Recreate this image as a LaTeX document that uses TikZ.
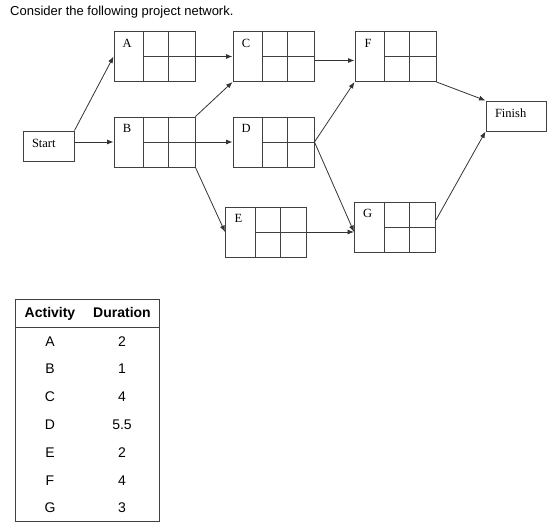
\documentclass[tikz,border=0pt]{standalone}
\usepackage{fontspec}
\setmainfont{Liberation Serif}
\newfontfamily\arialfont{Liberation Sans}
\usetikzlibrary{arrows.meta}

\begin{document}
\begin{tikzpicture}[x=1pt,y=-1pt,
    actbox/.style={draw=black!75,line width=0.95pt,minimum width=81pt,minimum height=50pt,inner sep=0pt},
    endbox/.style={draw=black!75,line width=0.95pt,minimum height=30pt,inner xsep=9pt,inner ysep=0pt,
      align=left,text depth=6pt,font=\fontsize{12.5}{14}\selectfont},
    lbl/.style={inner sep=0pt,font=\fontsize{12.5}{14}\selectfont},
    link/.style={draw=black!80,line width=0.8pt,-{Latex[length=6.5pt,width=5pt]}},
    cell/.style={inner sep=0pt,text height=10pt,text depth=3pt,font=\arialfont\fontsize{14}{16}\selectfont}]
    \useasboundingbox (0,0) rectangle (558,530);
    % Title
    \node[anchor=west,inner sep=0pt,font=\arialfont\fontsize{13}{15}\selectfont] (title) at (10,12)
        {Consider the following project network.};
    % Start and Finish
    \node[endbox,text width=33pt] (Start) at (48.5,146) {Start};
    \node[endbox,text width=42pt] (Finish) at (516,116) {Finish};
    % Activity boxes
    \foreach \n/\cx/\cy in {A/154.5/56.5,B/154.5/142,C/273.5/56.5,D/273.5/142,E/266/232,F/395.5/56.5,G/395/227} {
        \node[actbox] (\n) at (\cx,\cy) {};
        \draw[black!75,line width=0.95pt] ([xshift=30pt]\n.north west) -- ([xshift=30pt]\n.south west)
            ([xshift=55pt]\n.north west) -- ([xshift=55pt]\n.south west)
            ([xshift=30pt]\n.west) -- (\n.east);
        \node[lbl] (lbl\n) at ([xshift=13.5pt,yshift=-12pt]\n.north west) {\n};
    }
    % Precedence arrows
    \draw[link] (Start.north east) -- (A.west);
    \draw[link] (Start.east |- B.west) -- (B.west);
    \draw[link] (A.east) -- (C.west);
    \draw[link] (B.north east) -- (C.south west);
    \draw[link] (B.east) -- (D.west);
    \draw[link] (B.south east) -- (E.west);
    \draw[link] ([yshift=-4pt]C.east) -- ([yshift=-4pt]F.west);
    \draw[link] (D.east) -- (F.south west);
    \draw[link] (D.east) -- (E.east -| G.west);
    \draw[link] (E.east) -- (E.east -| G.west);
    \draw[link] (F.south east) -- (Finish.north west);
    \draw[link] ([yshift=7pt]G.east) -- (Finish.south west);
    % Durations table
    \draw[black!75,line width=1pt] (15,299) rectangle (159,521);
    \draw[black!75,line width=1pt] (15,327) -- (159,327);
    \node[cell,font=\arialfont\bfseries\fontsize{14}{16}\selectfont] (hdrAct) at (50,313.5) {Activity};
    \node[cell,font=\arialfont\bfseries\fontsize{14}{16}\selectfont] (hdrDur) at (122,313.5) {Duration};
    \foreach \a/\d [count=\i] in {A/2,B/1,C/4,D/5.5,E/2,F/4,G/3} {
        \node[cell] (act\a) at (50,{342.5+27.8*(\i-1)}) {\a};
        \node[cell] (dur\a) at (122,{342.5+27.8*(\i-1)}) {\d};
    }
\end{tikzpicture}
\end{document}
